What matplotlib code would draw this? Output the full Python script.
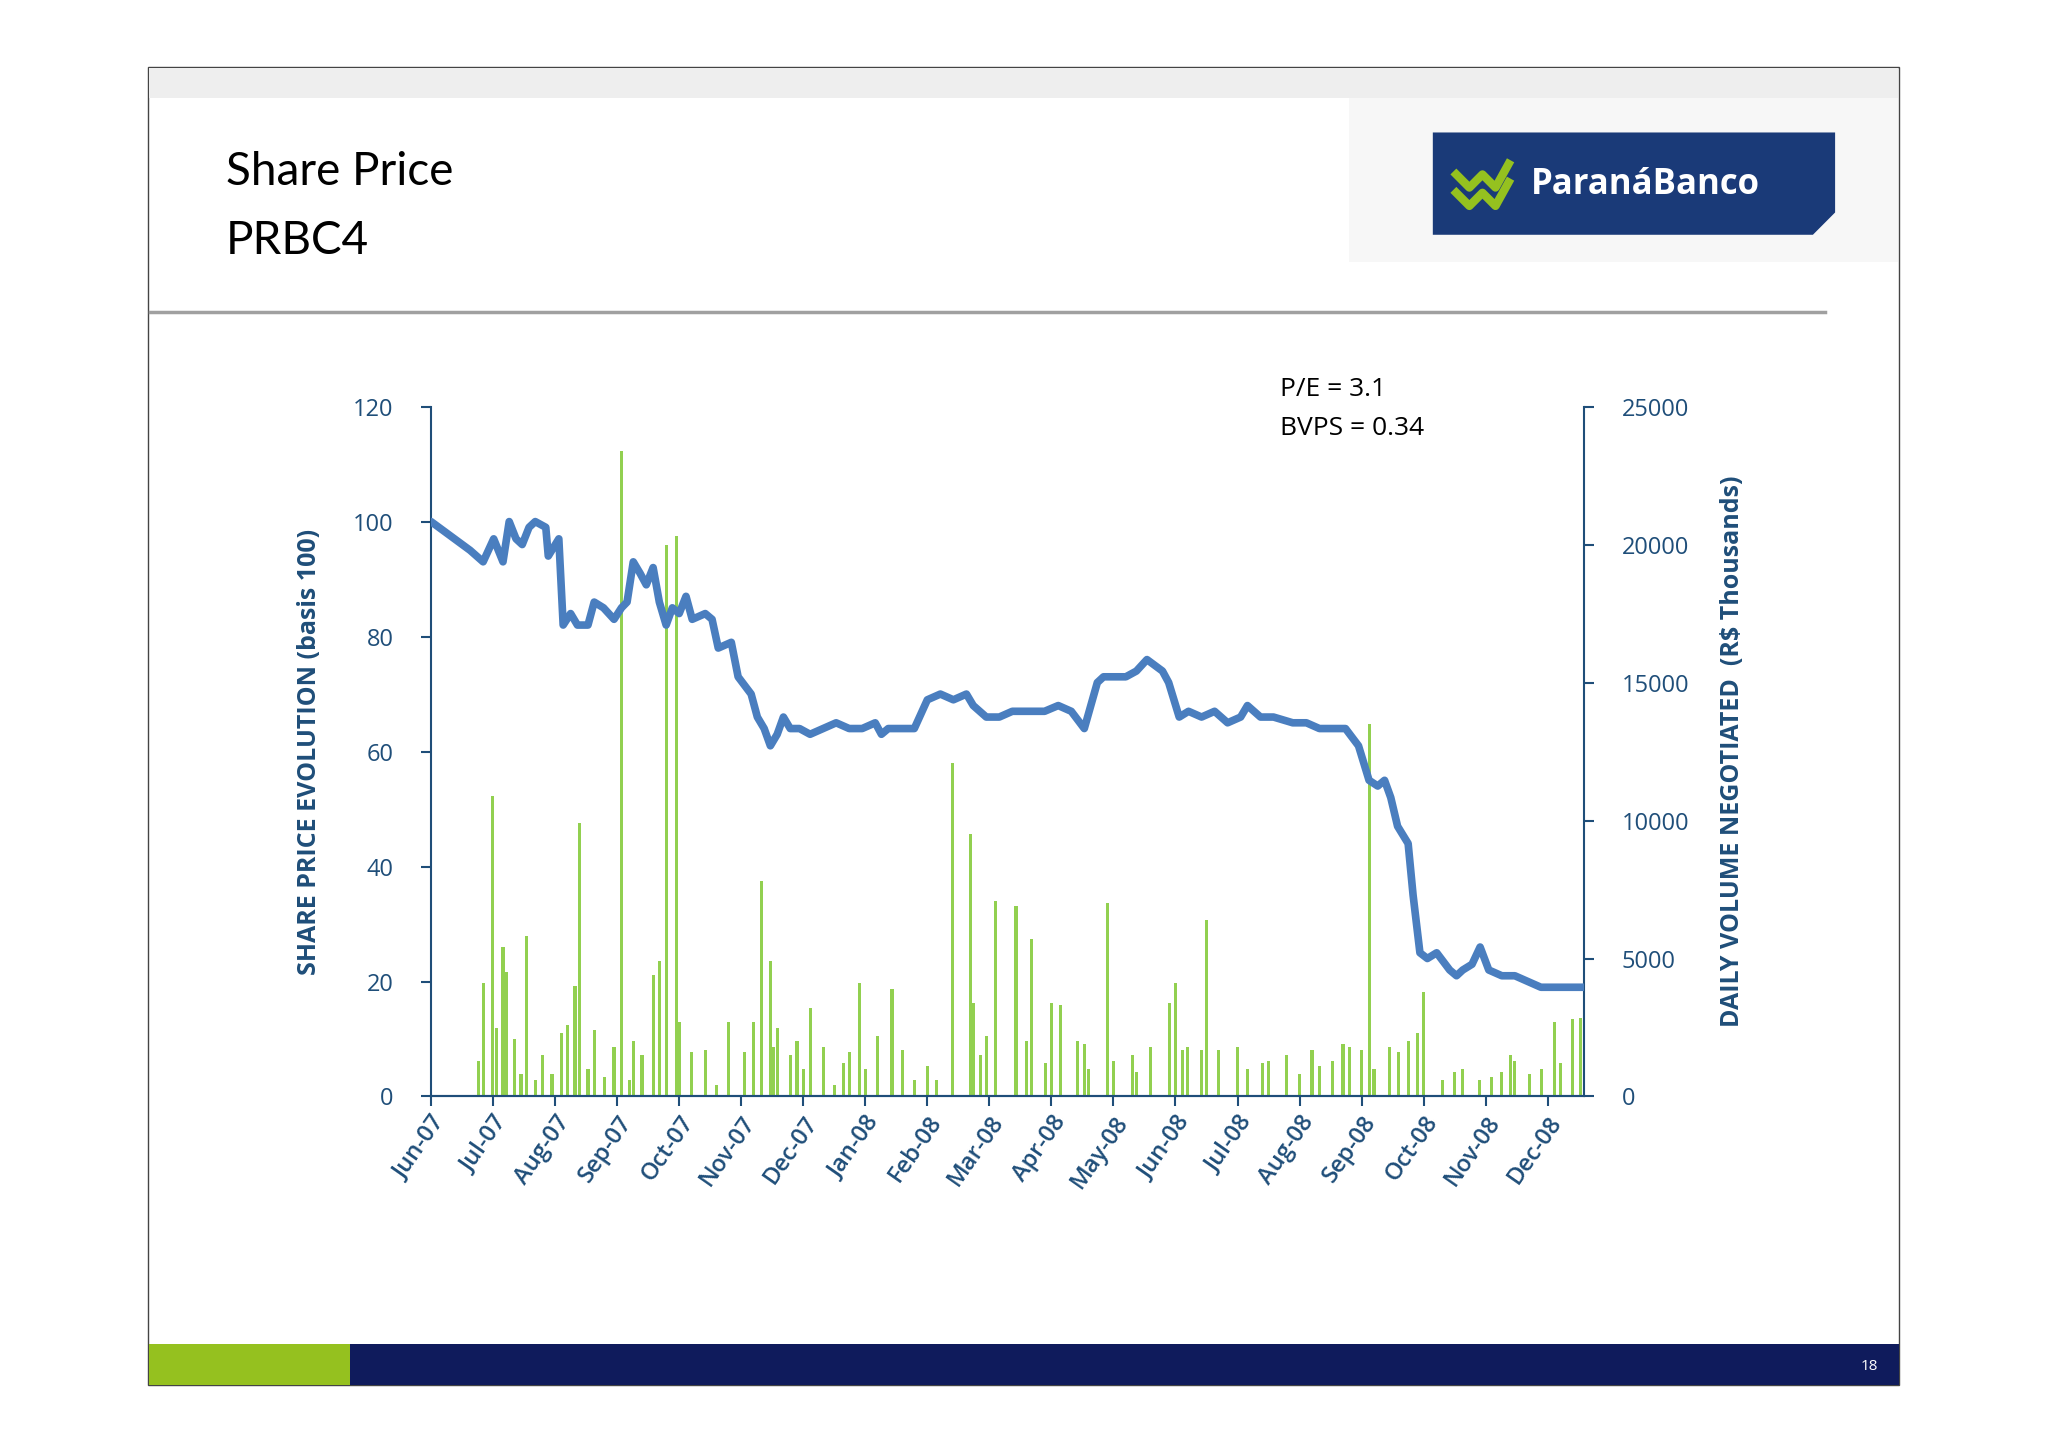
import matplotlib
matplotlib.use("Agg")
import matplotlib.pyplot as plt
from matplotlib.patches import Rectangle, Polygon

plt.rcParams['font.family'] = ['Open Sans', 'DejaVu Sans']

# ---- data (x in months since 1 Jun 2007) ----
price_x = [0, .63, .84, 1.01, 1.16, 1.26, 1.37, 1.47, 1.58, 1.68, 1.85, 1.89, 2.06, 2.13, 2.25, 2.36, 2.53, 2.63,
           2.78, 2.95, 3.07, 3.16, 3.26, 3.37, 3.47, 3.58, 3.68, 3.79, 3.89, 4.0, 4.11, 4.21, 4.42, 4.53, 4.63,
           4.84, 4.95, 5.16, 5.26, 5.37, 5.47, 5.58, 5.68, 5.79, 5.94, 6.11, 6.32, 6.53, 6.74, 6.95, 7.16, 7.26,
           7.37, 7.58, 7.79, 8.0, 8.21, 8.42, 8.63, 8.74, 8.95, 9.16, 9.37, 9.68, 9.89, 10.11, 10.32, 10.53,
           10.74, 10.84, 11.05, 11.2, 11.37, 11.54, 11.79, 11.89, 12.06, 12.21, 12.42, 12.63, 12.84, 13.05,
           13.16, 13.37, 13.58, 13.89, 14.11, 14.32, 14.53, 14.74, 14.95, 15.12, 15.26, 15.37, 15.47, 15.58,
           15.75, 15.83, 15.94, 16.06, 16.21, 16.42, 16.53, 16.63, 16.78, 16.91, 17.05, 17.26, 17.47, 17.68,
           17.89, 18.11, 18.32, 18.59]
price_y = [100, 95, 93, 97, 93, 100, 97, 96, 99, 100, 99, 94, 97, 82, 84, 82, 82, 86,
           85, 83, 85, 86, 93, 91, 89, 92, 86, 82, 85, 84, 87, 83, 84, 83, 78,
           79, 73, 70, 66, 64, 61, 63, 66, 64, 64, 63, 64, 65, 64, 64, 65, 63,
           64, 64, 64, 69, 70, 69, 70, 68, 66, 66, 67, 67, 67, 68, 67, 64,
           72, 73, 73, 73, 74, 76, 74, 72, 66, 67, 66, 67, 65, 66,
           68, 66, 66, 65, 65, 64, 64, 64, 61, 55, 54, 55, 52, 47,
           44, 35, 25, 24, 25, 22, 21, 22, 23, 26, 22, 21, 21, 20,
           19, 19, 19, 19]

vol_x = [.76, .84, .99, 1.05, 1.16, 1.22, 1.35, 1.45, 1.54, 1.68, 1.8, 1.95, 2.1, 2.2, 2.32, 2.4, 2.53, 2.63,
         2.8, 2.95, 3.07, 3.2, 3.26, 3.4, 3.58, 3.68, 3.79, 3.95, 4.0, 4.2, 4.42, 4.6, 4.8, 5.05, 5.2,
         5.32, 5.47, 5.52, 5.58, 5.79, 5.9, 6.0, 6.11, 6.32, 6.5, 6.65, 6.74, 6.9, 7.0, 7.2, 7.43, 7.6,
         7.8, 8.0, 8.15, 8.4, 8.7, 8.74, 8.85, 8.95, 9.1, 9.43, 9.6, 9.68, 9.9, 10.0, 10.15, 10.42,
         10.53, 10.6, 10.9, 11.0, 11.3, 11.37, 11.6, 11.9, 12.0, 12.12, 12.2, 12.42, 12.5, 12.7, 12.69,
         13.0, 13.16, 13.4, 13.5, 13.79, 14.0, 14.2, 14.32, 14.53, 14.7, 14.8, 15.0, 15.12, 15.2,
         15.45, 15.6, 15.75, 15.9, 16.0, 16.3, 16.5, 16.63, 16.9, 17.1, 17.26, 17.4, 17.47, 17.7,
         17.9, 18.11, 18.2, 18.4, 18.53]
vol_y = [1300, 4100, 10900, 2500, 5400, 4500, 2100, 800, 5800, 600, 1500, 800, 2300, 2600, 4000, 9900, 1000, 2400,
         700, 1800, 23400, 600, 2000, 1500, 4400, 4900, 20000, 20300, 2700, 1600, 1700, 400, 2700, 1600, 2700,
         7800, 4900, 1800, 2500, 1500, 2000, 1000, 3200, 1800, 400, 1200, 1600, 4100, 1000, 2200, 3900, 1700,
         600, 1100, 600, 12100, 9500, 3400, 1500, 2200, 7100, 6900, 2000, 5700, 1200, 3400, 3300, 2000,
         1900, 1000, 7000, 1300, 1500, 900, 1800, 3400, 4100, 1700, 1800, 1700, 6400, 1700, 1000,
         1800, 1000, 1200, 1300, 1500, 800, 1700, 1100, 1300, 1900, 1800, 1700, 13500, 1000,
         1800, 1600, 2000, 2300, 3800, 600, 900, 1000, 600, 700, 900, 1500, 1300, 800,
         1000, 2700, 1200, 2800, 2850]

months = ["Jun-07", "Jul-07", "Aug-07", "Sep-07", "Oct-07", "Nov-07", "Dec-07", "Jan-08", "Feb-08", "Mar-08",
          "Apr-08", "May-08", "Jun-08", "Jul-08", "Aug-08", "Sep-08", "Oct-08", "Nov-08", "Dec-08"]

W, H = 1568, 1104
def fx(x): return x / W
def fy(y): return 1 - y / H

fig = plt.figure(figsize=(20.48, 14.48), dpi=100)
fig.patch.set_facecolor("white")
navy = "#1F4E79"

# slide frame and decorations
fig.patches.append(Rectangle((fx(113), fy(1056)), fx(1454) - fx(113), fy(51) - fy(1056),
                             transform=fig.transFigure, fill=False, ec="#444444", lw=1))
fig.patches.append(Rectangle((fx(114), fy(75)), fx(1453) - fx(114), fy(52) - fy(75),
                             transform=fig.transFigure, fc="#EEEEEE", ec="none"))
fig.patches.append(Rectangle((fx(1033), fy(200)), fx(1453) - fx(1033), fy(75) - fy(200),
                             transform=fig.transFigure, fc="#F7F7F7", ec="none"))
fig.add_artist(plt.Line2D([fx(115), fx(1397)], [fy(238), fy(238)], color="#A0A0A0", lw=2.5,
                          transform=fig.transFigure))
fig.patches.append(Rectangle((fx(114), fy(1056)), fx(268) - fx(114), fy(1025) - fy(1056),
                             transform=fig.transFigure, fc="#95C11F", ec="none"))
fig.patches.append(Rectangle((fx(268), fy(1056)), fx(1454) - fx(268), fy(1025) - fy(1056),
                             transform=fig.transFigure, fc="#0F1B5C", ec="none"))
fig.text(fx(1438), fy(1042), "18", color="white", fontsize=11, ha="right", va="center")
fig.text(fx(173), fy(131), "Share Price", fontsize=33, va="center", color="black", family="Lato")
fig.text(fx(173), fy(184), "PRBC4", fontsize=33, va="center", color="black", family="Lato")

# logo
fig.patches.append(Polygon([(fx(1097), fy(101)), (fx(1405), fy(101)), (fx(1405), fy(162)),
                            (fx(1388), fy(179)), (fx(1097), fy(179))], closed=True,
                           transform=fig.transFigure, fc="#1A3A78", ec="none"))
for dy in (0, 14):
    fig.add_artist(plt.Line2D([fx(1115), fx(1125), fx(1135), fx(1145), fx(1155)],
                              [fy(133 + dy), fy(143 + dy), fy(133 + dy), fy(143 + dy), fy(125 + dy)],
                              color="#95C11F", lw=6, transform=fig.transFigure))
fig.text(fx(1172), fy(141), "ParanáBanco", fontsize=25, fontweight="bold", color="white", va="center")

# chart
ax = fig.add_axes([fx(330), fy(836), fx(1213) - fx(330), fy(310) - fy(836)])
ax2 = ax.twinx()
ax2.bar(vol_x, vol_y, width=0.05, color="#92D050", zorder=1)
ax.plot(price_x, price_y, color="#4A7EBF", lw=5.5, solid_capstyle="round", zorder=3)
ax.set_zorder(ax2.get_zorder() + 1)
ax.patch.set_visible(False)

ax.set_xlim(0, 18.59)
ax.set_ylim(0, 120)
ax2.set_ylim(0, 25000)
ax.set_yticks(range(0, 121, 20))
ax2.set_yticks(range(0, 25001, 5000))
ax.set_xticks(range(len(months)))
ax.set_xticklabels(months, rotation=55, ha="right", rotation_mode="anchor", fontsize=17,
                   color=navy, fontweight="semibold")
for a in (ax, ax2):
    a.spines["top"].set_visible(False)
    a.tick_params(colors=navy, labelsize=17, length=7, width=1.5)
    for s in a.spines.values():
        s.set_color(navy); s.set_linewidth(1.5)
ax.spines["right"].set_visible(False)
ax2.spines["left"].set_visible(False)
ax.tick_params(axis="y", pad=20)
ax2.tick_params(axis="y", pad=20)
for lbl in ax.get_yticklabels() + ax2.get_yticklabels():
    lbl.set_color(navy)
ax.set_ylabel("SHARE PRICE EVOLUTION (basis 100)", fontsize=18, fontweight="bold", color=navy, labelpad=22)
ax2.set_ylabel("DAILY VOLUME NEGOTIATED  (R$ Thousands)", fontsize=18, fontweight="bold", color=navy,
               labelpad=22)
fig.text(fx(980), fy(297), "P/E = 3.1", fontsize=19, va="center")
fig.text(fx(980), fy(327), "BVPS = 0.34", fontsize=19, va="center")

fig.savefig("out.png", dpi=100)
